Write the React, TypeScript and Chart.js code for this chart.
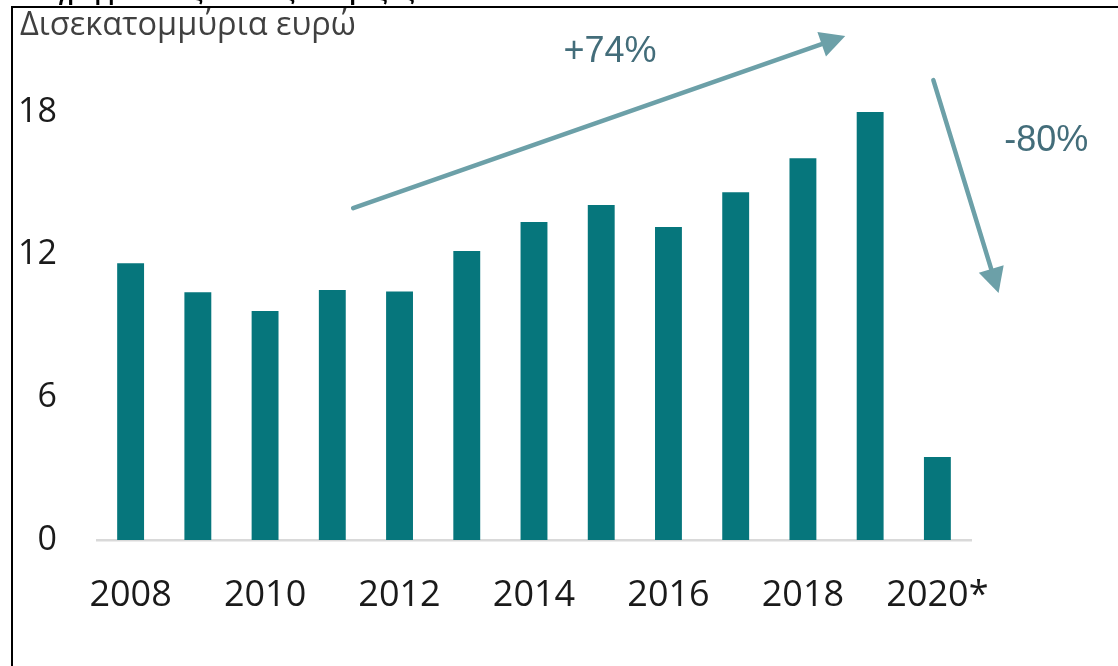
import React, { useEffect, useRef } from "react";
import { Chart, registerables } from "chart.js";

Chart.register(...registerables);

// ---- data ----
const categories = ["2008", "2009", "2010", "2011", "2012", "2013", "2014", "2015", "2016", "2017", "2018", "2019", "2020*"];
const values = [11.64, 10.42, 9.63, 10.51, 10.45, 12.15, 13.37, 14.09, 13.16, 14.63, 16.06, 18.0, 3.49];
const yMin = 0;
const yMax = 18;
const yStep = 6;
const unitTitle = "Δισεκατομμύρια ευρώ";
const headingText = "Διάγραμμα 1: Ταξιδιωτικές εισπράξεις";
const changeLabels = ["+74%", "-80%"];
// annotation anchors in data space: [category index, value]
const changeLabelAt = [[7.13, 20.1], [13.62, 16.36]];
const arrowFrom = [[3.31, 13.96], [11.94, 19.34]];
const arrowTo = [[10.63, 21.2], [12.91, 10.39]];

const BAR_COLOR = "#06767C";
const ARROW_COLOR = "#6CA0A8";
const LABEL_COLOR = "#436D7A";
const TICK_COLOR = "#1a1a1a";
const FONT = "'Open Sans', 'Noto Sans', sans-serif";

const annotationPlugin = {
  id: "annotations",
  afterDraw(chart: any) {
    const ctx = chart.ctx as CanvasRenderingContext2D;
    const xs = chart.scales.x;
    const ys = chart.scales.y;
    ctx.save();

    // frame lines
    ctx.fillStyle = "#000";
    ctx.fillRect(11, 6, chart.width - 11, 2);
    ctx.fillRect(11, 6, 2, chart.height - 6);

    // clipped heading above the frame
    ctx.fillStyle = "#000";
    ctx.font = `bold 22px 'Liberation Sans', Arial, sans-serif`;
    ctx.textAlign = "left";
    ctx.textBaseline = "alphabetic";
    ctx.fillText(headingText, 20, 0);

    // unit title
    ctx.fillStyle = "#404040";
    ctx.font = `32.5px ${FONT}`;
    ctx.fillText(unitTitle, 20, 35);

    // arrows
    for (let i = 0; i < arrowFrom.length; i++) {
      const x1 = xs.getPixelForValue(arrowFrom[i][0]);
      const y1 = ys.getPixelForValue(arrowFrom[i][1]);
      const x2 = xs.getPixelForValue(arrowTo[i][0]);
      const y2 = ys.getPixelForValue(arrowTo[i][1]);
      const ang = Math.atan2(y2 - y1, x2 - x1);
      const headLen = 25;
      const headHalf = 13;
      const bx = x2 - headLen * Math.cos(ang);
      const by = y2 - headLen * Math.sin(ang);
      ctx.strokeStyle = ARROW_COLOR;
      ctx.lineWidth = 4.5;
      ctx.lineCap = "round";
      ctx.beginPath();
      ctx.moveTo(x1, y1);
      ctx.lineTo(bx, by);
      ctx.stroke();
      ctx.fillStyle = ARROW_COLOR;
      ctx.beginPath();
      ctx.moveTo(x2, y2);
      ctx.lineTo(bx + headHalf * Math.sin(ang), by - headHalf * Math.cos(ang));
      ctx.lineTo(bx - headHalf * Math.sin(ang), by + headHalf * Math.cos(ang));
      ctx.closePath();
      ctx.fill();
    }

    // change labels
    ctx.fillStyle = LABEL_COLOR;
    ctx.font = `36px 'Liberation Sans', Arial, sans-serif`;
    ctx.textAlign = "center";
    ctx.textBaseline = "alphabetic";
    for (let i = 0; i < changeLabels.length; i++) {
      const x = xs.getPixelForValue(changeLabelAt[i][0]);
      const y = ys.getPixelForValue(changeLabelAt[i][1]);
      ctx.fillText(changeLabels[i], x, y);
    }
    ctx.restore();
  },
};

export default function App() {
  const ref = useRef<HTMLCanvasElement | null>(null);

  useEffect(() => {
    if (!ref.current) return;
    const chart = new Chart(ref.current, {
      type: "bar",
      data: {
        labels: categories,
        datasets: [
          {
            data: values,
            backgroundColor: BAR_COLOR,
            borderWidth: 0,
            categoryPercentage: 0.8,
            barPercentage: 0.5,
          },
        ],
      },
      options: {
        responsive: false,
        maintainAspectRatio: false,
        animation: false,
        devicePixelRatio: 1,
        layout: { padding: { left: 0, right: 147, top: 112, bottom: 26 } },
        plugins: {
          legend: { display: false },
          title: { display: false },
          tooltip: { enabled: false },
        },
        scales: {
          x: {
            grid: { display: false, drawTicks: false },
            border: { display: true, color: "#d9d9d9", width: 2.5 },
            ticks: {
              autoSkip: false,
              maxRotation: 0,
              minRotation: 0,
              padding: 34,
              color: TICK_COLOR,
              font: { family: FONT, size: 36 },
              callback: (_v: any, i: number) => (i % 2 === 0 ? categories[i] : ""),
            },
            afterFit: (s: any) => {
              s.height = 100;
            },
          },
          y: {
            min: yMin,
            max: yMax,
            grid: { display: false, drawTicks: false },
            border: { display: false },
            ticks: {
              stepSize: yStep,
              padding: 40,
              color: TICK_COLOR,
              font: { family: FONT, size: 34 },
            },
            afterFit: (s: any) => {
              s.width = 97;
            },
          },
        },
      },
      plugins: [annotationPlugin],
    });
    return () => chart.destroy();
  }, []);

  return (
    <div style={{ position: "fixed", left: 0, top: 0, width: 1118, height: 666, background: "#fff" }}>
      <canvas ref={ref} width={1118} height={666} style={{ display: "block" }} />
    </div>
  );
}
